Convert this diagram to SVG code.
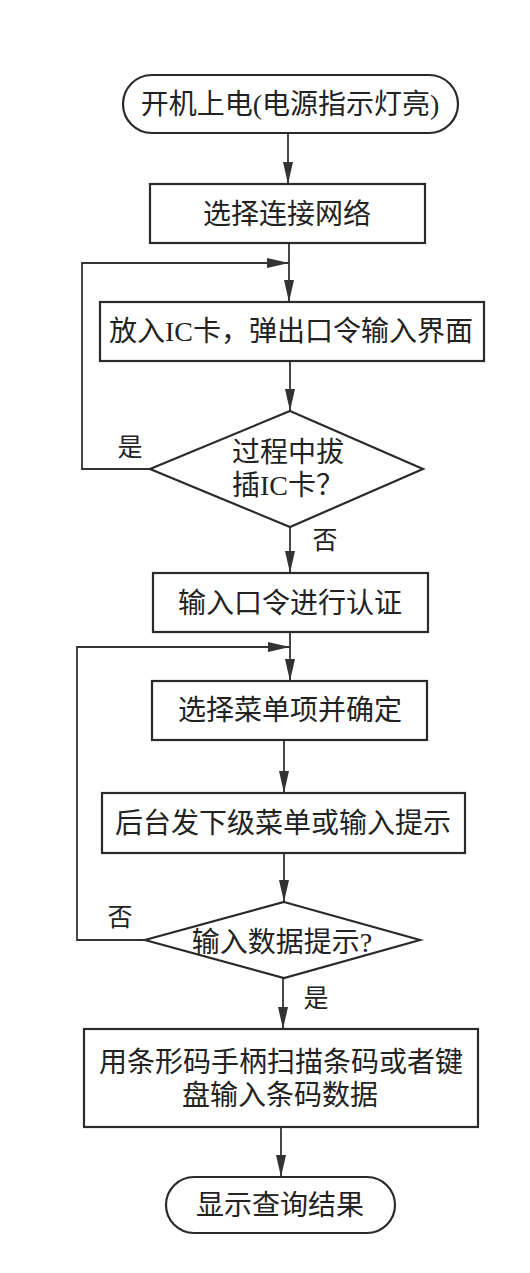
<svg xmlns="http://www.w3.org/2000/svg" width="530" height="1273" viewBox="0 0 530 1273">
<style>
  .shape { fill: none; stroke: #2a2a2a; stroke-width: 2.2; }
  .conn { fill: none; stroke: #333; stroke-width: 1.8; }
  .t { font-family: "Liberation Serif", "Noto Sans CJK SC", serif; font-size: 28px; fill: #222; text-anchor: middle; }
  .lbl { font-family: "Liberation Serif", "Noto Sans CJK SC", serif; font-size: 25px; fill: #222; text-anchor: middle; }
</style>
<defs>
  <marker id="arr" markerUnits="userSpaceOnUse" markerWidth="24" markerHeight="10" refX="22" refY="5" orient="auto">
    <path d="M0,0 L22,5 L0,10 z" fill="#333"/>
  </marker>
</defs>
<rect width="530" height="1273" fill="#ffffff"/>

<g id="connectors">
  <line class="conn" x1="288" y1="133" x2="288" y2="184" marker-end="url(#arr)"/>
  <line class="conn" x1="289" y1="243" x2="289" y2="302" marker-end="url(#arr)"/>
  <line class="conn" x1="290" y1="361" x2="290" y2="411" marker-end="url(#arr)"/>
  <path class="conn" d="M150,469 L82,469 L82,263 L289,263" marker-end="url(#arr)"/>
  <line class="conn" x1="290" y1="527" x2="290" y2="573" marker-end="url(#arr)"/>
  <line class="conn" x1="290" y1="632" x2="290" y2="681" marker-end="url(#arr)"/>
  <path class="conn" d="M145,940 L77,940 L77,647 L290,647" marker-end="url(#arr)"/>
  <line class="conn" x1="284" y1="740" x2="284" y2="793" marker-end="url(#arr)"/>
  <line class="conn" x1="284" y1="853" x2="284" y2="902" marker-end="url(#arr)"/>
  <line class="conn" x1="283" y1="978" x2="283" y2="1029" marker-end="url(#arr)"/>
  <line class="conn" x1="281" y1="1127" x2="281" y2="1177" marker-end="url(#arr)"/>
  <text class="lbl" x="130" y="456">是</text>
  <text class="lbl" x="325" y="549">否</text>
  <text class="lbl" x="120" y="926">否</text>
  <text class="lbl" x="316" y="1007">是</text>
</g>

<g id="start">
  <rect class="shape" x="123" y="75" width="335" height="58" rx="29"/>
  <text class="t" x="290" y="114">开机上电(电源指示灯亮)</text>
</g>

<g id="select-network">
  <rect class="shape" x="150" y="184" width="275" height="59"/>
  <text class="t" x="287" y="224">选择连接网络</text>
</g>

<g id="insert-card">
  <rect class="shape" x="100" y="302" width="384" height="59"/>
  <text class="t" x="291" y="341">放入IC卡，弹出口令输入界面</text>
</g>

<g id="decision-card">
  <polygon class="shape" points="290,411 423,469 290,527 150,469"/>
  <text class="t" x="232" y="462" text-anchor="start" style="text-anchor:start">过程中拔</text>
  <text class="t" x="232" y="495" style="text-anchor:start">插IC卡？</text>
</g>

<g id="auth">
  <rect class="shape" x="153" y="573" width="275" height="59"/>
  <text class="t" x="290" y="613">输入口令进行认证</text>
</g>

<g id="select-menu">
  <rect class="shape" x="152" y="681" width="275" height="59"/>
  <text class="t" x="290" y="720">选择菜单项并确定</text>
</g>

<g id="backend">
  <rect class="shape" x="102" y="793" width="363" height="60"/>
  <text class="t" x="283" y="833">后台发下级菜单或输入提示</text>
</g>

<g id="decision-data">
  <polygon class="shape" points="284,902 420,940 284,978 145,940"/>
  <text class="t" x="282" y="952">输入数据提示?</text>
</g>

<g id="scan">
  <rect class="shape" x="84" y="1029" width="394" height="98"/>
  <text class="t" x="281" y="1072">用条形码手柄扫描条码或者键</text>
  <text class="t" x="280" y="1105">盘输入条码数据</text>
</g>

<g id="end">
  <rect class="shape" x="166" y="1177" width="229" height="56" rx="28"/>
  <text class="t" x="280" y="1215">显示查询结果</text>
</g>
</svg>
